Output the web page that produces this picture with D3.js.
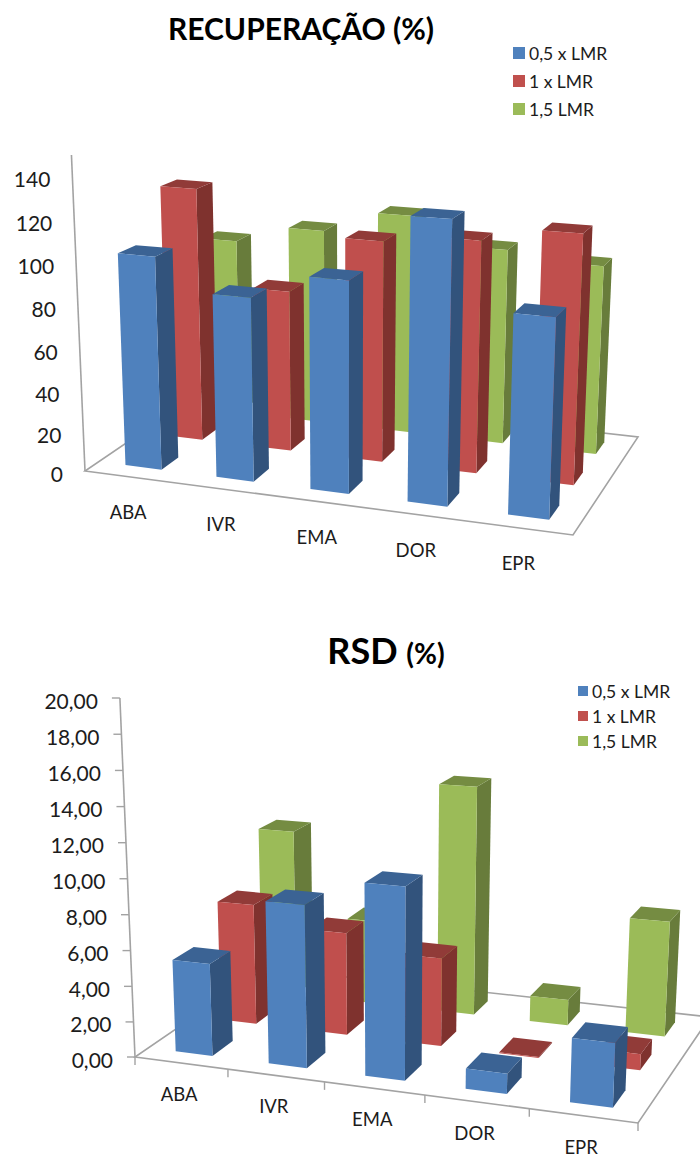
<!DOCTYPE html>
<html><head><meta charset="utf-8">
<script src="https://cdnjs.cloudflare.com/ajax/libs/d3/7.8.5/d3.min.js"></script>
<style>html,body{margin:0;padding:0;background:#fff}svg{display:block}text{font-family:Lato,"Open Sans",sans-serif;fill:#1c1c1c}</style>
</head><body><svg id="c" width="700" height="1157" viewBox="0 0 700 1157"></svg>
<script>
const categories = ["ABA","IVR","EMA","DOR","EPR"];
const seriesNames = ["0,5 x LMR","1 x LMR","1,5 LMR"];
const recLow  = [103, 88, 100, 131, 92];
const recMid  = [126, 80, 108, 112, 119];
const recHigh = [91, 100, 111, 98, 94];
const rsdLow  = [5.2, 9.0, 10.5, 1.1, 3.4];
const rsdMid  = [7.0, 5.9, 5.0, 0.05, 0.9];
const rsdHigh = [10.0, 5.0, 13.5, 1.5, 6.6];
const recTicks = [0,20,40,60,80,100,120,140];
const rsdTicks = [0,2,4,6,8,10,12,14,16,18,20];
const faceColors = ["#4f81bd","#c0504d","#9bbb59"];
const sideColors = ["#31527c","#7f302e","#677c3a"];
const topColors  = ["#3a6394","#913a38","#748c42"];
const svg = d3.select("#c");
const defs = svg.append("defs");
defs.append("filter").attr("id","soft").append("feGaussianBlur").attr("stdDeviation",0.45);

function homography(A,B,C,D){
  const dx1=B[0]-C[0],dx2=D[0]-C[0],sx=A[0]-B[0]+C[0]-D[0];
  const dy1=B[1]-C[1],dy2=D[1]-C[1],sy=A[1]-B[1]+C[1]-D[1];
  const den=dx1*dy2-dx2*dy1;
  const g=(sx*dy2-dx2*sy)/den,h=(dx1*sy-sx*dy1)/den;
  const a=B[0]-A[0]+g*B[0],b=D[0]-A[0]+h*D[0],d=B[1]-A[1]+g*B[1],e=D[1]-A[1]+h*D[1];
  return (u,v)=>{const w=g*u+h*v+1;return {x:(a*u+b*v+A[0])/w,y:(d*u+e*v+A[1])/w,s:1/w};};
}

function chart3d(o){
  const g=svg.append("g");
  const floor=homography(o.A,o.B,o.C,o.D);
  const hScale=d3.scalePow().exponent(o.exp).domain([0,o.max]).range([0,o.axisPx]);
  const lean=x=>(x-o.xc)*0.000165;
  const P=(u,v,val)=>{const f=floor(u,v);const h=hScale(val)*f.s;return [f.x+lean(f.x)*h,f.y-h];};
  const uScale=d3.scaleBand().domain(categories).range([0,1]).paddingInner(0.6).paddingOuter(0.3);
  const vScale=d3.scaleBand().domain(d3.range(3)).range([0,1]).paddingInner(o.depthPad).paddingOuter(o.depthPad/2);
  const line=d3.line();
  const plot=g.append("g").attr("filter","url(#soft)");
  plot.append("path").attr("d",line([P(0,0,0),P(1,0,0),P(1,1,0),P(0,1,0)])+"Z")
    .attr("fill","#fff").attr("stroke","#a3a3a3").attr("stroke-width",1.6);
  plot.append("path").attr("d",line([P(0,0,0),P(0,0,o.max)]))
    .attr("fill","none").attr("stroke","#a3a3a3").attr("stroke-width",1.6);
  if(o.showTicks){
    o.ticks.forEach(t=>{const p=P(0,0,t);
      plot.append("line").attr("x1",p[0]).attr("x2",p[0]-8).attr("y1",p[1]).attr("y2",p[1]).attr("stroke","#a3a3a3").attr("stroke-width",1.4);});
    d3.range(categories.length+1).forEach(i=>{const p=P(i/categories.length,0,0);
      plot.append("line").attr("x1",p[0]).attr("x2",p[0]).attr("y1",p[1]).attr("y2",p[1]+8).attr("stroke","#a3a3a3").attr("stroke-width",1.4);});
  }
  [2,1,0].forEach(si=>{
    categories.forEach((c,ci)=>{
      const val=o.series[si][ci];
      const u0=uScale(c),u1=u0+uScale.bandwidth(),v0=vScale(si),v1=v0+vScale.bandwidth();
      const b=plot.append("g");
      b.append("path").attr("d",line([P(u1,v0,0),P(u1,v1,0),P(u1,v1,val),P(u1,v0,val)])+"Z").attr("fill",sideColors[si]);
      b.append("path").attr("d",line([P(u0,v0,val),P(u1,v0,val),P(u1,v1,val),P(u0,v1,val)])+"Z").attr("fill",topColors[si]);
      b.append("path").attr("d",line([P(u0,v0,0),P(u1,v0,0),P(u1,v0,val),P(u0,v0,val)])+"Z").attr("fill",faceColors[si]);
    });
  });
  o.ticks.forEach(t=>{const p=P(0,0,t);
    g.append("text").attr("x",p[0]-o.labelGap).attr("y",p[1]+2).attr("text-anchor","end")
      .attr("dominant-baseline","central").attr("font-size",21).text(o.fmt(t));});
  categories.forEach(c=>{const f=floor(uScale(c)+uScale.bandwidth()/2,0);
    g.append("text").attr("x",f.x-2).attr("y",f.y+o.catGap).attr("text-anchor","middle")
      .attr("dominant-baseline","central").attr("font-size",18.5).text(c);});
  const ly=d3.scalePoint().domain(seriesNames).range(o.legendY);
  seriesNames.forEach((n,i)=>{
    g.append("rect").attr("x",o.legendX).attr("y",ly(n)-o.sw/2).attr("width",o.sw).attr("height",o.sw).attr("fill",faceColors[i]);
    g.append("text").attr("x",o.legendX+o.sw+4).attr("y",ly(n)).attr("dominant-baseline","central")
      .attr("font-size",o.legendSize).text(n);
  });
}

chart3d({A:[85,471],B:[573,535],C:[638,437],D:[207,388],series:[recLow,recMid,recHigh],depthPad:0.6,
  ticks:recTicks,max:150,axisPx:316,exp:1.04,xc:345,fmt:d3.format("d"),labelGap:22,catGap:35,
  legendX:513,legendY:[53,109],sw:12,legendSize:17.5,showTicks:false});
chart3d({A:[135,1057],B:[638,1123],C:[710,1017],D:[265,968],series:[rsdLow,rsdMid,rsdHigh],depthPad:0.55,
  ticks:rsdTicks,max:20,axisPx:359,exp:1.01,xc:390,fmt:t=>d3.format(".2f")(t).replace(".",","),labelGap:22,catGap:31,
  legendX:578,legendY:[691,741],sw:10,legendSize:17.5,showTicks:true});

svg.append("text").attr("x",301).attr("y",40).attr("text-anchor","middle").attr("font-size",30).attr("font-weight",700).attr("style","fill:#000").text("RECUPERAÇÃO (%)");
const t2=svg.append("text").attr("x",386).attr("y",664).attr("text-anchor","middle").attr("font-weight",700).attr("style","fill:#000");
t2.append("tspan").attr("font-size",36).text("RSD ");
t2.append("tspan").attr("font-size",28).text("(%)");
</script></body></html>
